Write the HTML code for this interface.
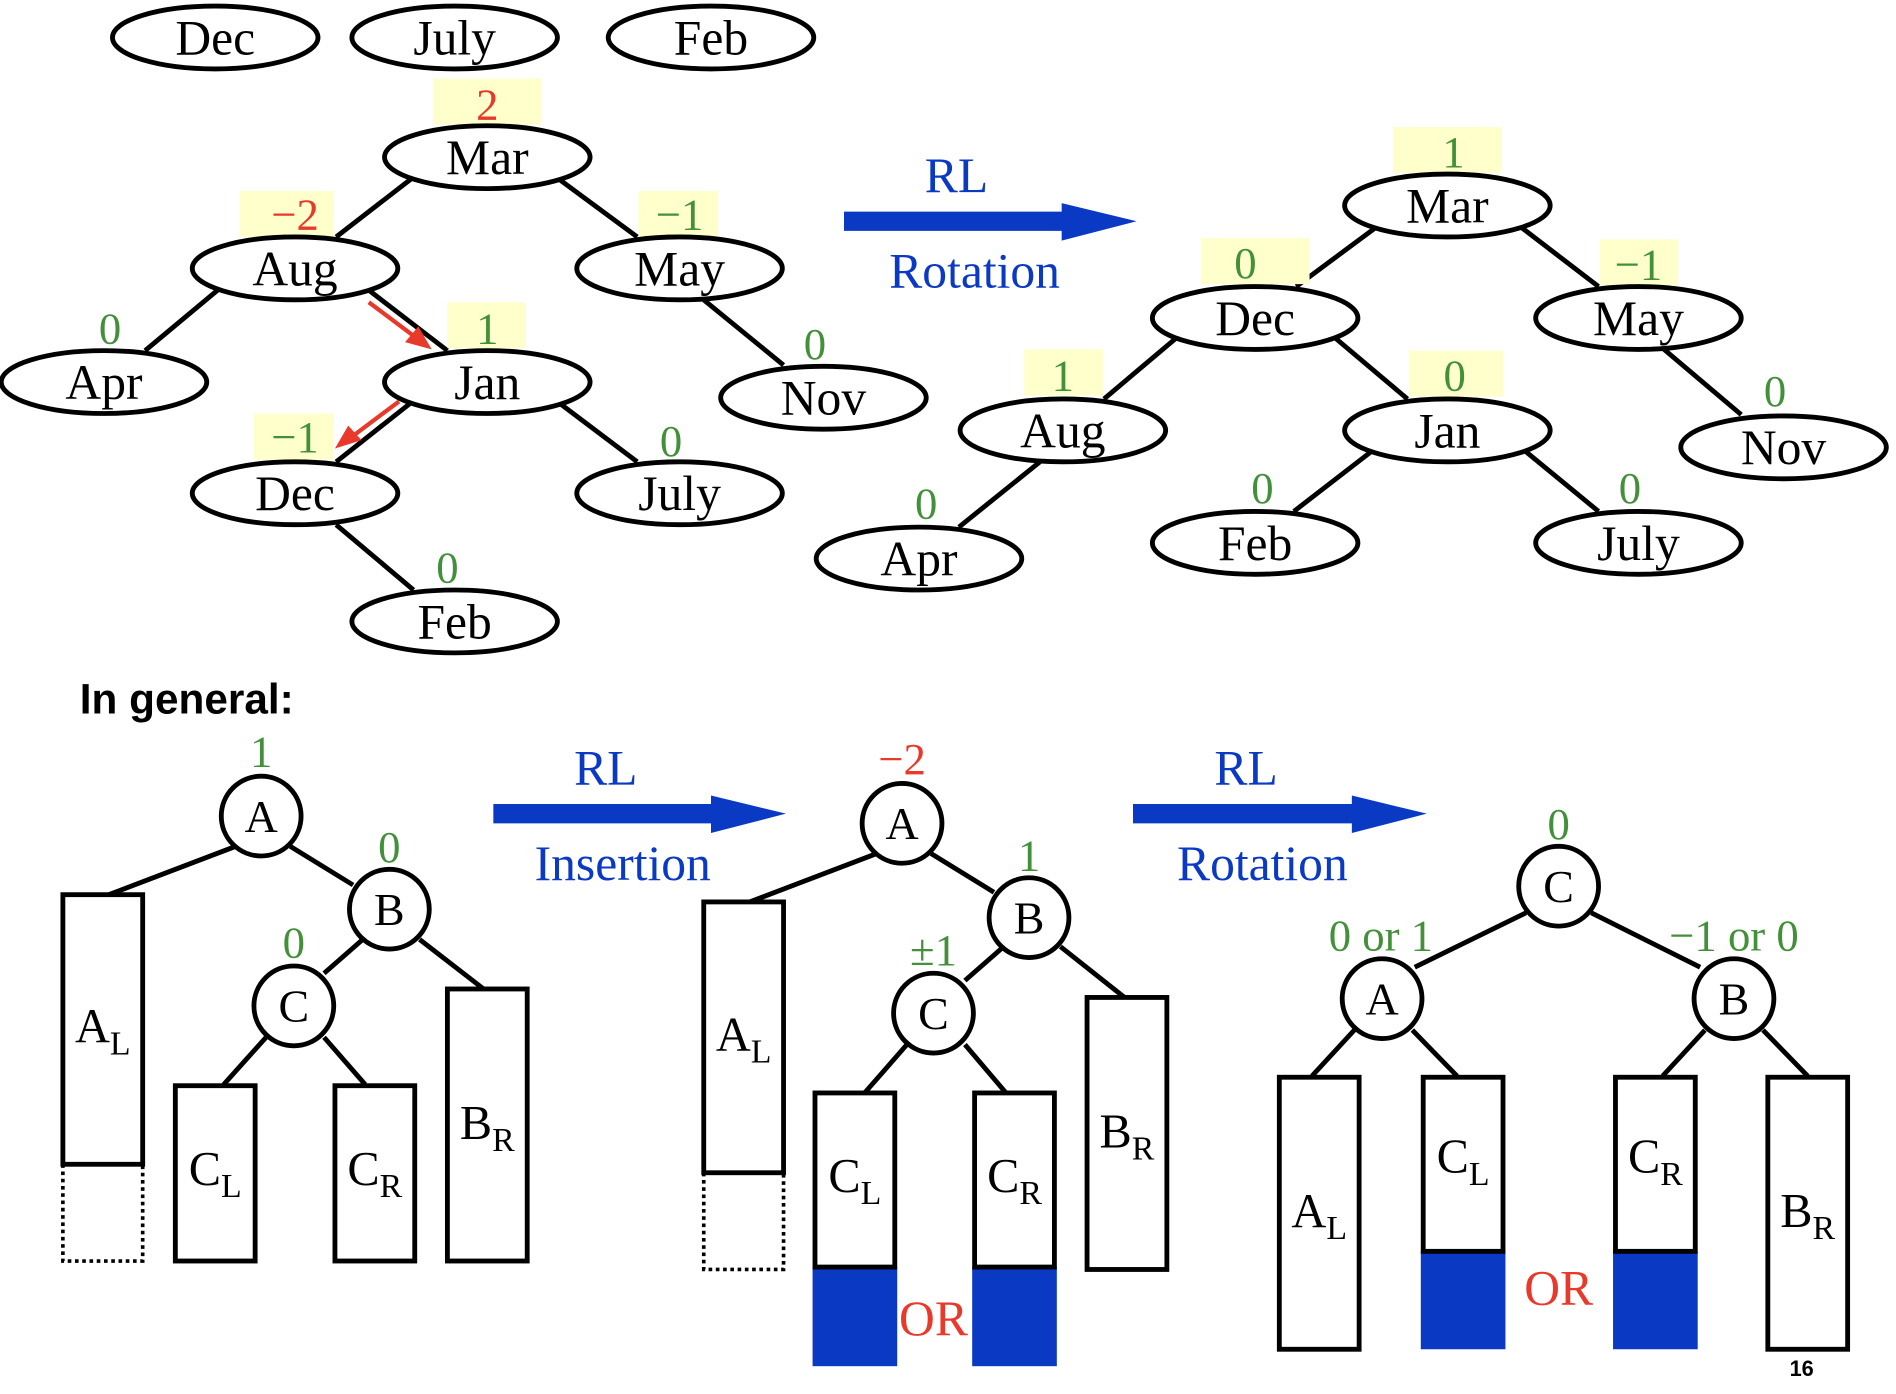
<!DOCTYPE html>
<html><head><meta charset="utf-8"><style>
html,body{margin:0;padding:0;background:#fff;}
svg{display:block;}
text{font-family:"Liberation Serif",serif;}
</style></head><body>
<svg id="s" width="1896" height="1394" viewBox="0 0 1568 1153" preserveAspectRatio="none" xmlns="http://www.w3.org/2000/svg"></svg>
<script>
const svg=document.getElementById('s');
const NS='http://www.w3.org/2000/svg';
const GREEN='#43903a',RED='#e8392a',BLUE='#0a39c4',YEL='#ffffcc';
function mk(tag,attrs,txt){const e=document.createElementNS(NS,tag);for(const k in attrs)e.setAttribute(k,attrs[k]);if(txt!==undefined)e.textContent=txt;svg.appendChild(e);return e;}
function line(x1,y1,x2,y2,c,w){const e=mk('line',{x1,y1,x2,y2,stroke:c||'#000','stroke-width':w||4});

return e;}
function node(x,y,t){const e=mk('ellipse',{cx:x,cy:y,rx:85,ry:26,fill:'#fff',stroke:'#000','stroke-width':4});


const tx=mk('text',{x:x,y:y+14,'font-size':41,'text-anchor':'middle'},t);

}
function bal(x,y,t,c,box){if(box){const r=mk('rect',{x:box[0],y:box[1],width:box[2],height:box[3],fill:YEL});

}
const e=mk('text',{x:x,y:y,'font-size':37,'text-anchor':'middle',fill:c},t);

}
function circ(x,y,t){const e=mk('circle',{cx:x,cy:y,r:33,fill:'#fff',stroke:'#000','stroke-width':4});


const tx=mk('text',{x:x,y:y+13,'font-size':38,'text-anchor':'middle'},t);

}
function sub(x1,y1,x2,y2,main,s,ly,blueFrom,dotTo){
 if(blueFrom){const b=mk('rect',{x:x1-2,y:blueFrom,width:x2-x1+4,height:y2-blueFrom,fill:BLUE});
 
 }
 const r=mk('rect',{x:x1,y:y1,width:x2-x1,height:(blueFrom||y2)-y1,fill:'none',stroke:'#000','stroke-width':4});
 
 
 if(dotTo){const d=mk('path',{d:`M${x1},${y2} V${dotTo} H${x2} V${y2}`,fill:'none',stroke:'#000','stroke-width':3,'stroke-dasharray':'3,3'});
 
 }
 const t=mk('text',{x:(x1+x2)/2,y:ly,'font-size':40,'text-anchor':'middle'});
 
 
 t.innerHTML=main+'<tspan font-size="28" dy="10">'+s+'</tspan>';}
function arrow(x1,x2,y,l1,l2,tx2){const p=mk('path',{d:`M${x1},${y-8} H${x2-62} V${y-15} L${x2},${y} L${x2-62},${y+16} V${y+8} H${x1} Z`,fill:BLUE,'stroke-linejoin':'round'});


const a=mk('text',{x:(x1+x2)/2-28,y:y-24,'font-size':41,'text-anchor':'middle',fill:BLUE},l1);


const b=mk('text',{x:tx2,y:y+55,'font-size':41,'text-anchor':'middle',fill:BLUE},l2);

}

node(178,31,'Dec');node(376,31,'July');node(588,31,'Feb');
line(340,148,278,196);line(462,148,527,196);line(180,240,120,290);line(305,240,370,290);
line(582,248,648,302);line(340,333,278,382);line(462,333,527,382);line(278,434,342,488);
bal(403,99,'2',RED,[358,65,90,38]);
bal(244,190,'−2',RED,[198,158,78,38]);
bal(562,190,'−1',GREEN,[528,158,66,38]);
bal(91,284,'0',GREEN);
bal(403,284,'1',GREEN,[370,250,65,38]);
bal(244,374,'−1',GREEN,[210,342,66,38]);
bal(555,377,'0',GREEN);bal(370,482,'0',GREEN);bal(674,297,'0',GREEN);
node(403,130,'Mar');node(244,222,'Aug');node(562,222,'May');node(86,316,'Apr');
node(403,316,'Jan');node(681,329,'Nov');node(244,408,'Dec');node(562,408,'July');node(376,514,'Feb');
line(305,250,345,280,RED,3.5);mk('path',{d:'M357,289 L335,283 L346,270 Z',fill:RED});
line(330,332,290,362,RED,3.5);mk('path',{d:'M277,371 L288,352 L299,364 Z',fill:RED});
arrow(698,940,183,'RL','Rotation',806);
line(1138,188,1072,237);line(1258,188,1322,237);line(977,276,913,330);line(1100,276,1164,330);
line(1375,288,1440,343);line(860,382,793,436);line(1136,372,1070,423);line(1260,372,1322,423);
bal(1202,138,'1',GREEN,[1152,105,90,38]);
bal(1030,230,'0',GREEN,[993,197,90,38]);
bal(1355,231,'−1',GREEN,[1323,198,65,38]);
bal(879,323,'1',GREEN,[847,289,65,38]);
bal(1203,323,'0',GREEN,[1165,290,78,38]);
bal(1468,336,'0',GREEN);bal(766,429,'0',GREEN);bal(1044,416,'0',GREEN);bal(1348,416,'0',GREEN);
node(1197,170,'Mar');node(1038,263,'Dec');node(1355,263,'May');node(879,356,'Aug');
node(1197,356,'Jan');node(1475,370,'Nov');node(760,462,'Apr');node(1038,449,'Feb');node(1355,449,'July');

const ig=mk('text',{x:66,y:590,'font-size':35,style:'font-family:"Liberation Sans",sans-serif;font-weight:bold'},'In general:');



line(195,700,90,740);line(240,700,292,732);line(300,777,268,805);line(347,777,400,818);line(220,858,185,897);line(268,858,302,897);
sub(52,740,118,963,'A','L',862,0,1043);
sub(145,898,211,1043,'C','L',980);sub(277,898,343,1043,'C','R',980);sub(370,818,436,1043,'B','R',942);
circ(216,675,'A');circ(322,752,'B');circ(243,832,'C');
bal(216,634,'1',GREEN);bal(322,713,'0',GREEN);bal(243,792,'0',GREEN);
arrow(408,650,673,'RL','Insertion',515);
line(725,706,620,746);line(770,706,822,738);line(830,783,798,811);line(877,783,930,825);line(750,864,715,904);line(798,864,832,904);
sub(582,746,648,970,'A','L',869,0,1050);
sub(674,904,740,1130,'C','L',986,1048);sub(806,904,872,1130,'C','R',986,1048);sub(899,825,965,1050,'B','R',949);
circ(746,681,'A');circ(851,759,'B');circ(772,838,'C');
bal(746,640,'−2',RED);bal(851,720,'1',GREEN);bal(772,798,'±1',GREEN);
const or1=mk('text',{x:772,y:1104,'font-size':41,'text-anchor':'middle',fill:RED},'OR');


arrow(937,1180,673,'RL','Rotation',1044);
line(1262,755,1170,800);line(1316,755,1406,800);line(1120,852,1085,890);line(1168,852,1205,890);line(1410,852,1375,890);line(1458,852,1495,890);
sub(1058,891,1124,1116,'A','L',1015);sub(1177,891,1243,1116,'C','L',970,1035);
sub(1336,891,1402,1116,'C','R',970,1035);sub(1462,891,1528,1116,'B','R',1015);
circ(1289,733,'C');circ(1143,826,'A');circ(1434,826,'B');
bal(1289,694,'0',GREEN);bal(1142,786,'0 or 1',GREEN);bal(1434,786,'−1 or 0',GREEN);
const or2=mk('text',{x:1289,y:1079,'font-size':41,'text-anchor':'middle',fill:RED},'OR');


const pn=mk('text',{x:1490,y:1138,'font-size':18,'text-anchor':'middle',style:'font-family:"Liberation Sans",sans-serif;font-weight:bold'},'16');


</script>
</body></html>
